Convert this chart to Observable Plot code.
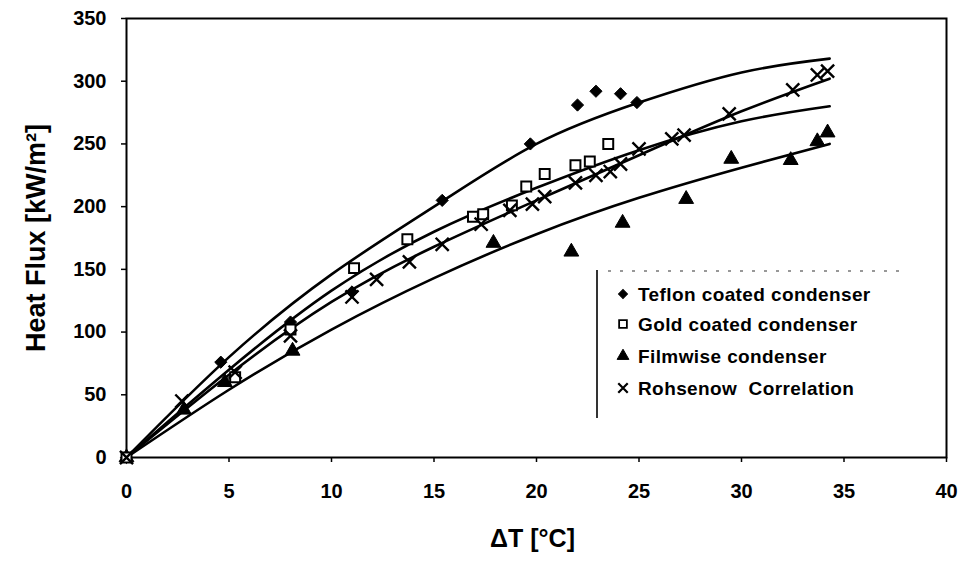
<!DOCTYPE html>
<html>
<head>
<meta charset="utf-8">
<script src="https://cdn.jsdelivr.net/npm/d3@7"></script>
<script src="https://cdn.jsdelivr.net/npm/@observablehq/plot@0.6"></script>
<style>
  html, body { margin: 0; padding: 0; background: #fff; }
  #chart svg { display: block; }
</style>
</head>
<body>
<div id="chart"></div>
<script>
// ---- Data ----
const xTicks = [0, 5, 10, 15, 20, 25, 30, 35, 40];
const yTicks = [0, 50, 100, 150, 200, 250, 300, 350];

const teflonDT = [0, 4.6, 8.0, 11.0, 15.4, 19.7, 22.0, 22.9, 24.1, 24.9];
const teflonQ  = [0, 76, 108, 132, 205, 250, 281, 292, 290, 283];

const goldDT = [0, 5.3, 8.0, 11.1, 13.7, 16.9, 17.4, 18.8, 19.5, 20.4, 21.9, 22.6, 23.5];
const goldQ  = [0, 64, 102, 151, 174, 192, 194, 201, 216, 226, 233, 236, 250];

const filmDT = [0, 2.8, 4.8, 8.1, 17.9, 21.7, 24.2, 27.3, 29.5, 32.4, 33.7, 34.2];
const filmQ  = [0, 38, 60, 85, 171, 164, 187, 206, 238, 237, 252, 259];

const rohDT = [0, 2.7, 5.3, 8.0, 11.0, 12.2, 13.8, 15.4, 17.3, 18.7, 19.8, 20.4, 21.9, 22.9, 23.6, 24.1, 25.0, 26.6, 27.2, 29.4, 32.5, 33.7, 34.2];
const rohQ  = [0, 45, 68, 97, 128, 142, 156, 170, 186, 197, 202, 208, 219, 225, 228, 234, 246, 254, 257, 274, 293, 305, 308];

// fitted curves as drawn in the picture (read at these ΔT values)
const curveDT    = [0, 5, 10, 15, 20, 25, 30, 34.3];
const teflonFit  = [0, 80, 146, 200, 250, 283, 307, 318];
const goldFit    = [0, 70, 133, 180, 215, 245, 268, 280];
const rohFit     = [0, 66, 124, 168, 205, 241, 276, 302];
const filmFit    = [0, 54, 102, 143, 178, 207, 231, 250];

const seriesNames = ["Teflon coated condenser", "Gold coated condenser", "Filmwise condenser", "Rohsenow  Correlation"];

// ---- Build tables ----
const pts = (xs, ys) => xs.map((x, i) => ({x, y: ys[i]}));
const fits = [teflonFit, goldFit, rohFit, filmFit].map(ys => pts(curveDT, ys));

const font = "Liberation Sans, Arial, Helvetica, sans-serif";

const chart = Plot.plot({
  width: 961,
  height: 580,
  marginLeft: 126,
  marginRight: 15,
  marginTop: 18,
  marginBottom: 123,
  style: {fontFamily: font, background: "#fff", color: "#000"},
  x: {domain: [0, 40], ticks: xTicks},
  y: {domain: [0, 350], ticks: yTicks},
  marks: [
    Plot.frame({stroke: "#000", strokeWidth: 2}),
    Plot.axisX({ticks: xTicks, tickSize: 5, tickPadding: 21, fontSize: 20, fontWeight: "bold", label: null, stroke: "#000", strokeWidth: 1.5}),
    Plot.axisY({ticks: yTicks, tickSize: 5, tickPadding: 15, fontSize: 20, fontWeight: "bold", label: null, stroke: "#000", strokeWidth: 1.5}),
    ...fits.map(f => Plot.line(f, {x: "x", y: "y", curve: "natural", stroke: "#000", strokeWidth: 2.6})),
    Plot.dot(pts(teflonDT, teflonQ), {x: "x", y: "y", symbol: "diamond2", r: 5.5, fill: "#000", stroke: "#000", strokeWidth: 1}),
    Plot.dot(pts(filmDT, filmQ), {x: "x", y: "y", symbol: "triangle", r: 5.5, fill: "#000", stroke: "#000", strokeWidth: 1}),
    Plot.dot(pts(goldDT, goldQ), {x: "x", y: "y", symbol: "square", r: 5.6, fill: "#fff", stroke: "#000", strokeWidth: 2}),
    Plot.dot(pts(rohDT, rohQ), {x: "x", y: "y", symbol: "times", r: 6, stroke: "#000", strokeWidth: 2.4}),
    Plot.text(["ΔT [°C]"], {frameAnchor: "bottom", textAnchor: "middle", dy: 89, dx: -4, fontSize: 25, fontWeight: "bold", fill: "#000"}),
    Plot.text(["Heat Flux [kW/m²]"], {frameAnchor: "left", textAnchor: "middle", dx: -90, rotate: -90, fontSize: 27, fontWeight: "bold", fill: "#000"})
  ]
});

// ---- Legend (inside the plot, as in the reference) ----
const svg = d3.select(chart);
const lg = svg.append("g").attr("font-family", font).attr("text-anchor", "start");
lg.append("line").attr("x1", 597).attr("x2", 597).attr("y1", 270).attr("y2", 418)
  .attr("stroke", "#000").attr("stroke-width", 1.6);
lg.append("line").attr("x1", 608).attr("x2", 905).attr("y1", 271).attr("y2", 271)
  .attr("stroke", "#333").attr("stroke-width", 1.2).attr("stroke-dasharray", "3 9");
const legendSymbols = [
  {sym: d3.symbolSquare, rot: 45, size: 40, fill: "#000", stroke: "#000", sw: 1},
  {sym: d3.symbolSquare, rot: 0, size: 60, fill: "#fff", stroke: "#000", sw: 1.8},
  {sym: d3.symbolTriangle, rot: 0, size: 60, fill: "#000", stroke: "#000", sw: 1},
  {sym: d3.symbolTimes || d3.symbolX, rot: 0, size: 60, fill: "none", stroke: "#000", sw: 2.2}
];
const rowY = [294, 324, 356, 388];
seriesNames.forEach((name, i) => {
  const s = legendSymbols[i];
  lg.append("path")
    .attr("d", d3.symbol(s.sym, s.size)())
    .attr("transform", `translate(623,${rowY[i]}) rotate(${s.rot})`)
    .attr("fill", s.fill).attr("stroke", s.stroke).attr("stroke-width", s.sw);
  lg.append("text").attr("x", 638).attr("y", rowY[i]).attr("dy", "0.36em")
    .attr("text-anchor", "start")
    .attr("font-size", 19).attr("font-weight", "bold").attr("fill", "#000")
    .attr("letter-spacing", 0.4)
    .text(name);
});

document.getElementById("chart").appendChild(chart);
</script>
</body>
</html>
